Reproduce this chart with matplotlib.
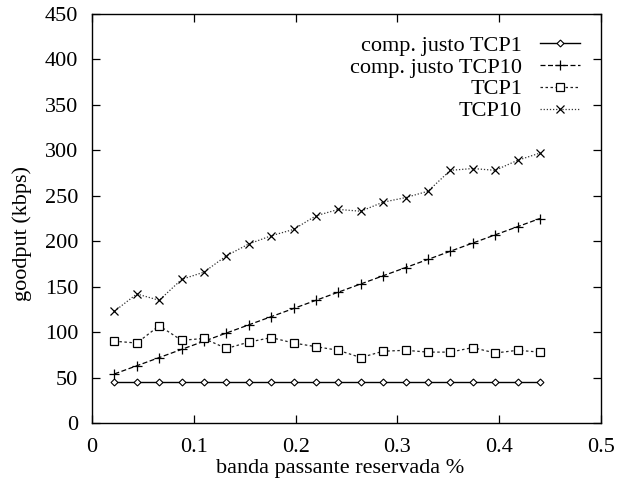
import matplotlib
matplotlib.use("Agg")
import matplotlib.pyplot as plt

plt.rcParams['font.family'] = ['Liberation Serif', 'DejaVu Serif']

x = [0.022, 0.044, 0.066, 0.088, 0.110, 0.132, 0.154, 0.176, 0.198, 0.220,
     0.242, 0.264, 0.286, 0.308, 0.330, 0.352, 0.374, 0.396, 0.418, 0.440]
fair_tcp1 = [45] * 20
fair_tcp10 = [54, 63, 72, 81, 90, 99, 108, 117, 126, 135,
              144, 153, 162, 171, 180, 189, 198, 207, 216, 225]
tcp1 = [90, 88, 107, 91, 93, 82, 89, 94, 88, 84,
        80, 72, 79, 80, 78, 78, 83, 77, 80, 78]
tcp10 = [123, 142, 135, 158, 166, 184, 197, 206, 213, 228,
         235, 233, 243, 248, 255, 278, 280, 278, 289, 297]

labels = ["comp. justo TCP1", "comp. justo TCP10", "TCP1", "TCP10"]
xticks = [0, 0.1, 0.2, 0.3, 0.4, 0.5]
xticklabels = ["0", "0.1", "0.2", "0.3", "0.4", "0.5"]
yticks = [0, 50, 100, 150, 200, 250, 300, 350, 400, 450]

fig = plt.figure(figsize=(6.18, 4.83), dpi=100)
ax = fig.add_axes([0.1489, 0.1242, 0.8236, 0.8468])

ax.plot(x, fair_tcp1, color='black', lw=1.0, marker='D', ms=3.5,
        mfc='white', mec='black', mew=0.8, label=labels[0])
ax.plot(x, fair_tcp10, color='black', lw=0.9, ls=(0, (4, 2)), marker='+', ms=7,
        mew=0.9, label=labels[1])
ax.plot(x, tcp1, color='#222222', lw=0.9, ls=(0, (2, 2)), marker='s', ms=6,
        mfc='white', mec='black', mew=0.9, label=labels[2])
ax.plot(x, tcp10, color='#333333', lw=0.9, ls=(0, (1, 1.5)), marker='x', ms=6,
        mec='black', mew=0.9, label=labels[3])

ax.set_xlim(0, 0.5)
ax.set_ylim(0, 450)
ax.set_xticks(xticks)
ax.set_xticklabels(xticklabels)
ax.set_yticks(yticks)
ax.tick_params(direction='in', top=True, right=True, length=6, width=0.9,
               labelsize=16)
ax.tick_params(axis='x', pad=11)
ax.tick_params(axis='y', pad=10)
for s in ax.spines.values():
    s.set_linewidth(1.0)

ax.set_xlabel("banda passante reservada %", fontsize=16)
ax.set_ylabel("goodput (kbps)", fontsize=16)
ax.xaxis.set_label_coords(0.487, -0.088)
ax.yaxis.set_label_coords(-0.118, 0.4645)

leg = ax.legend(loc='upper right', frameon=False, markerfirst=False,
                fontsize=16, handlelength=1.8, handletextpad=0.8,
                labelspacing=0.06, borderaxespad=0.55)

fig.savefig("out.png", dpi=100)
